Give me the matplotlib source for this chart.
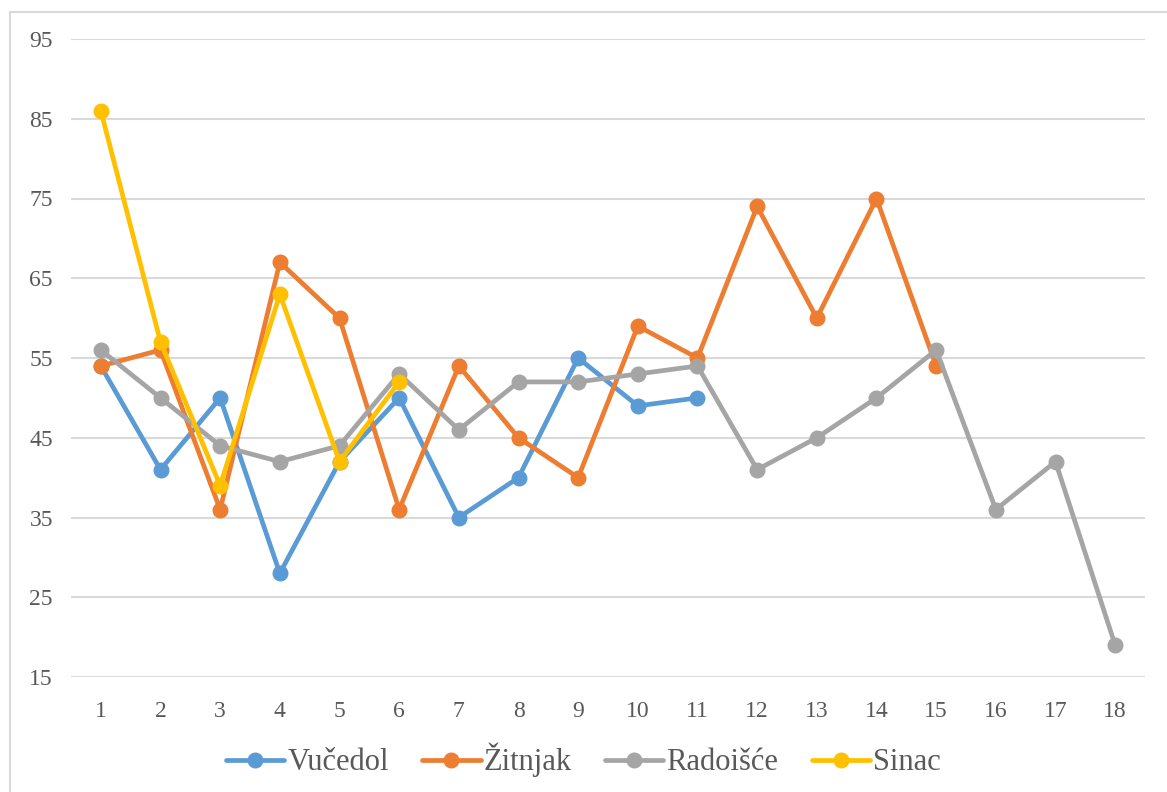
import matplotlib
matplotlib.use("Agg")
import matplotlib.pyplot as plt
from matplotlib.patches import Rectangle

categories = list(range(1, 19))
vucedol = [54, 41, 50, 28, 42, 50, 35, 40, 55, 49, 50]
zitnjak = [54, 56, 36, 67, 60, 36, 54, 45, 40, 59, 55, 74, 60, 75, 54]
radoisce = [56, 50, 44, 42, 44, 53, 46, 52, 52, 53, 54, 41, 45, 50, 56, 36, 42, 19]
sinac = [86, 57, 39, 63, 42, 52]
series_names = ["Vučedol", "Žitnjak", "Radoišće", "Sinac"]
colors = ["#5B9BD5", "#ED7D31", "#A5A5A5", "#FFC000"]
yticks = [15, 25, 35, 45, 55, 65, 75, 85, 95]

plt.rcParams['font.family'] = ['Liberation Serif', 'DejaVu Serif']

W, H = 1167, 792
fig = plt.figure(figsize=(W / 100, H / 100), dpi=100)
ax = fig.add_axes([71 / W, 1 - 677 / H, (1145 - 71) / W, (677 - 39) / H])

for name, vals, c in zip(series_names, [vucedol, zitnjak, radoisce, sinac], colors):
    ax.plot(categories[:len(vals)], vals, color=c, lw=3.4, marker='o',
            markersize=10.5, label=name, solid_capstyle='round', zorder=3)

ax.set_xlim(0.5, 18.5)
ax.set_ylim(15, 95)
ax.set_yticks(yticks)
ax.set_xticks(categories)
ax.set_xticklabels([str(c) for c in categories])
ax.grid(axis='y', color='#d9d9d9', lw=1.5, zorder=0)
ax.set_axisbelow(True)
for s in ax.spines.values():
    s.set_visible(False)
ax.tick_params(axis='both', length=0, labelsize=17, colors='#595959')
ax.tick_params(axis='x', pad=17)
ax.tick_params(axis='y', pad=13)

fig.legend(loc='center', bbox_to_anchor=(0.5, 1 - 760 / H), ncol=4, frameon=False,
           fontsize=22, handlelength=1.9, columnspacing=1.1, handletextpad=0.1,
           labelcolor='#595959')

fig.patches.append(Rectangle((10 / W, -0.1), 1.2, 1 - 12 / H + 0.1,
                             transform=fig.transFigure, fill=False,
                             edgecolor='#d9d9d9', lw=1.5, zorder=0))

fig.savefig("out.png", dpi=100)
